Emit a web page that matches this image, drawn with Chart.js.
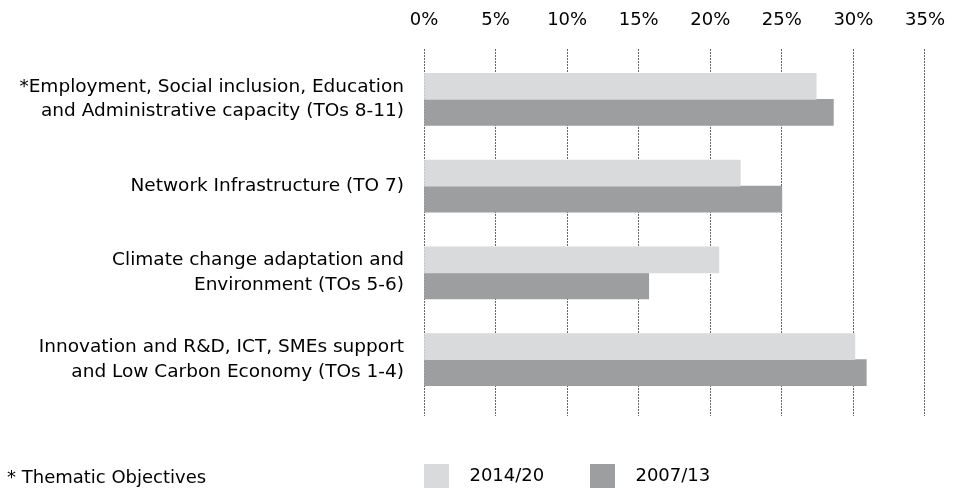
<!DOCTYPE html>
<html>
<head>
<meta charset="utf-8">
<script src="https://cdn.jsdelivr.net/npm/chart.js@4"></script>
<style>
  body { margin: 0; background: #fff; }
  .wrap { position: relative; width: 963px; height: 488px; }
  .note {
    position: absolute; left: 7px; top: 466px;
    font: 18px "DejaVu Sans", sans-serif; line-height: 21px; color: #000;
  }
</style>
</head>
<body>
<div class="wrap">
  <canvas id="toChart"></canvas>
  <div class="note">* Thematic Objectives</div>
</div>
<script>
// categories, top to bottom
const categories = [
  ['*Employment, Social inclusion, Education', 'and Administrative capacity (TOs 8-11)'],
  ['Network Infrastructure (TO 7)'],
  ['Climate change adaptation and', 'Environment (TOs 5-6)'],
  ['Innovation and R&D, ICT, SMEs support', 'and Low Carbon Economy (TOs 1-4)']
];
const seriesNames = ['2014/20', '2007/13'];
const share2014 = [27.4, 22.1, 20.6, 30.1];
const share2007 = [28.6, 25.0, 15.7, 30.9];
const xTicks = [0, 5, 10, 15, 20, 25, 30, 35];

const font = { family: '"DejaVu Sans", sans-serif', size: 18 };

// category index i sits at y = i on a linear axis
const toPoints = (vals) => vals.map((v, i) => ({ x: v, y: i }));

const ctx = document.getElementById('toChart').getContext('2d');
new Chart(ctx, {
  type: 'bar',
  data: {
    datasets: [
      { label: seriesNames[0], data: toPoints(share2014), backgroundColor: '#d9dadc', borderWidth: 0 },
      { label: seriesNames[1], data: toPoints(share2007), backgroundColor: '#9d9ea0', borderWidth: 0 }
    ]
  },
  options: {
    indexAxis: 'y',
    responsive: true,
    maintainAspectRatio: false,
    animation: false,
    barThickness: 26,
    layout: { autoPadding: false, padding: { left: 0, right: 30, top: 9, bottom: -11 } },
    scales: {
      x: {
        position: 'top',
        min: xTicks[0],
        max: xTicks[xTicks.length - 1],
        ticks: {
          stepSize: 5,
          padding: 18,
          color: '#000',
          font: font,
          callback: (v) => v + '%'
        },
        grid: { color: '#666', drawTicks: false },
        border: { display: false, dash: [2, 1] },
        afterFit: (scale) => { scale.height = 40; }
      },
      // only reserves the gap between the plot and the legend
      x2: {
        position: 'bottom',
        min: xTicks[0],
        max: xTicks[xTicks.length - 1],
        ticks: { display: false },
        grid: { drawOnChartArea: false, tickLength: 48, tickColor: 'rgba(0,0,0,0)' },
        border: { display: false },
        afterFit: (scale) => { scale.height = 48; }
      },
      y: {
        type: 'linear',
        reverse: true,
        offset: false,
        min: -0.58,
        max: 3.65,
        grid: { display: false, drawTicks: false },
        border: { display: false },
        ticks: {
          stepSize: 1,
          includeBounds: false,
          padding: 20,
          color: '#000',
          font: { family: font.family, size: 18.5, lineHeight: 1.32 },
          callback: (v) => categories[v]
        },
        afterFit: (scale) => { scale.width = 424; }
      }
    },
    plugins: {
      tooltip: { enabled: false },
      legend: {
        position: 'bottom',
        align: 'start',
        fullSize: false,
        labels: {
          boxWidth: 25,
          boxHeight: 25,
          padding: 0,
          color: '#000',
          font: font,
          generateLabels: (chart) => Chart.defaults.plugins.legend.labels.generateLabels(chart)
            .map((item) => Object.assign(item, { text: '  ' + item.text + '        ' }))
        }
      }
    }
  }
});
</script>
</body>
</html>
